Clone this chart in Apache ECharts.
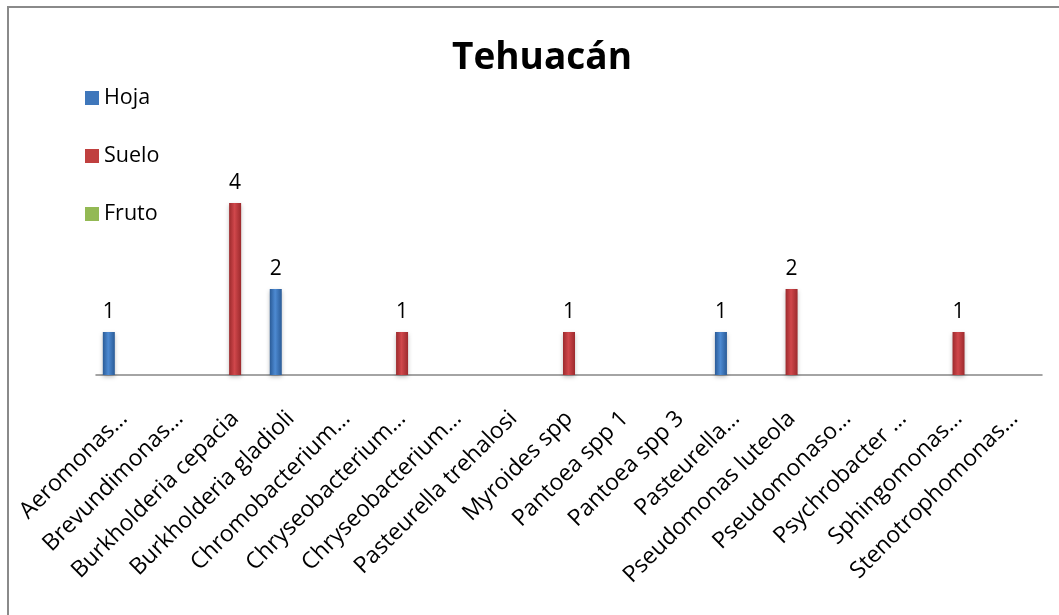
<!DOCTYPE html>
<html>
<head>
<meta charset="utf-8">
<script src="https://cdn.jsdelivr.net/npm/echarts@6/dist/echarts.min.js"></script>
<style>html,body{margin:0;padding:0;background:#fff;}#c{width:1059px;height:615px;}</style>
</head>
<body>
<div id="c"></div>
<script>
const categories = ['Aeromonas…','Brevundimonas…','Burkholderia cepacia','Burkholderia gladioli','Chromobacterium…','Chryseobacterium…','Chryseobacterium…','Pasteurella trehalosi','Myroides spp','Pantoea spp 1','Pantoea spp 3','Pasteurella…','Pseudomonas luteola','Pseudomonaso…','Psychrobacter …','Sphingomonas…','Stenotrophomonas…'];
const hoja  = [1,null,null,2,null,null,null,null,null,null,null,1,null,null,null,null,null];
const suelo = [null,null,4,null,null,1,null,null,1,null,null,null,2,null,null,1,null];
const fruto = [null,null,null,null,null,null,null,null,null,null,null,null,null,null,null,null,null];
const titleText = 'Tehuacán';

const FONT = 'Open Sans';
function grad(dark, light){
  return new echarts.graphic.LinearGradient(0,0,1,0,[
    {offset:0,color:dark},{offset:0.45,color:light},{offset:1,color:dark}]);
}
const colors = {
  hoja: grad('#2a5b97','#4d8ad2'),
  suelo: grad('#9c2a2d','#d0474b'),
  fruto: grad('#7a9a3c','#a9cc63')
};
const chart = echarts.init(document.getElementById('c'));
function mk(name, data, color){
  return {
    name, type:'bar', data, barWidth:12, barGap:'25%',
    itemStyle:{color:color, shadowColor:'rgba(0,0,0,0.25)', shadowBlur:4, shadowOffsetY:2},
    label:{show:true, position:'top', distance:9, fontFamily:FONT, fontSize:21, color:'#000'}
  };
}
chart.setOption({
  animation:false,
  title:{text:titleText, left:447, top:35, textStyle:{fontFamily:FONT, fontSize:37, fontWeight:'bold', color:'#000'}},
  legend:{orient:'vertical', left:80, top:81, itemWidth:14, itemHeight:14, itemGap:34, icon:'rect',
    textStyle:{fontFamily:FONT, fontSize:21.5, color:'#000', lineHeight:24},
    data:[{name:'Hoja',itemStyle:{color:'#3f77bb'}},{name:'Suelo',itemStyle:{color:'#c0403f'}},{name:'Fruto',itemStyle:{color:'#93b954'}}]},
  grid:{left:96, right:17, top:160, bottom:240, containLabel:false},
  xAxis:{type:'category', data:categories,
    axisLine:{lineStyle:{color:'#868686', width:1.5}},
    axisTick:{show:false},
    axisLabel:{rotate:45, interval:0, margin:40, fontFamily:FONT, fontSize:23, color:'#000'}},
  yAxis:{type:'value', min:0, max:5, interval:1, show:false},
  series:[mk('Hoja',hoja,colors.hoja), mk('Suelo',suelo,colors.suelo), mk('Fruto',fruto,colors.fruto)],
  graphic:[
    {type:'polyline', shape:{points:[[8,615],[8,7],[1059,7]]}, style:{stroke:'#8a8a8a', lineWidth:2, fill:null}}
  ]
});
</script>
</body>
</html>
